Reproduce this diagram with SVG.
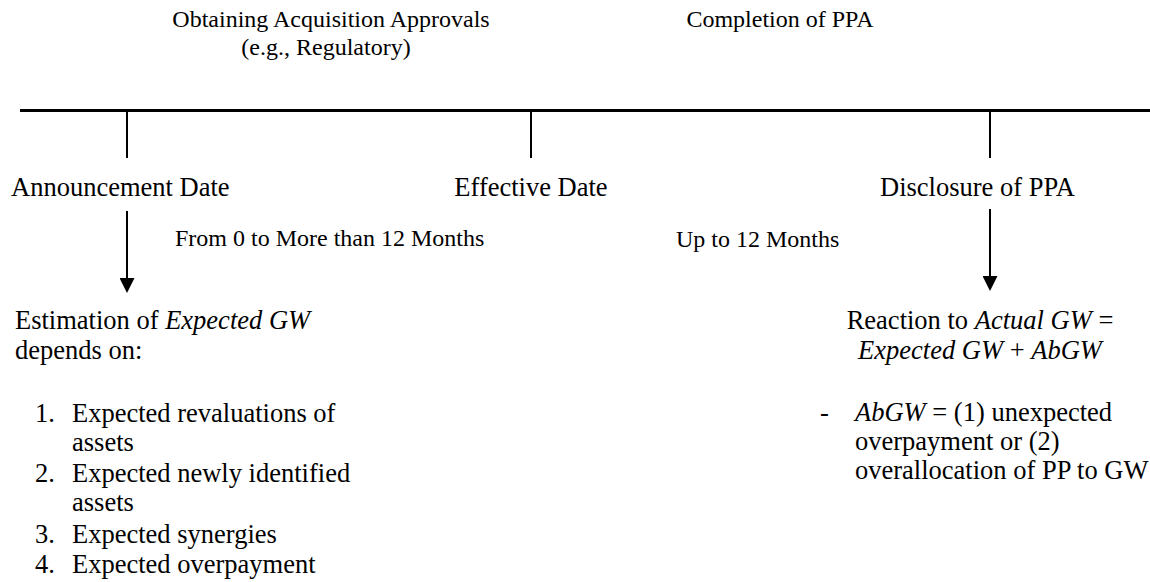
<svg xmlns="http://www.w3.org/2000/svg" width="1150" height="582" viewBox="0 0 1150 582">
<defs>
<style>
text{font-family:"Liberation Serif","Times New Roman",serif;fill:#000}
.s{font-size:24px}
.l{font-size:26.5px}
.i{font-style:italic}
.ln{stroke:#000;fill:none}
</style>
<marker id="ah" markerWidth="15" markerHeight="15" refX="0" refY="7.5" orient="auto" markerUnits="userSpaceOnUse" viewBox="0 0 15 15">
<path d="M0,0 L15,7.5 L0,15 Z" fill="#000"/>
</marker>
</defs>
<rect width="1150" height="582" fill="#fff"/>
<g id="timeline">
<line class="ln" x1="20" y1="110.5" x2="1150" y2="110.5" stroke-width="3"/>
</g>
<g id="approvals">
<text class="s" x="331" y="27" text-anchor="middle">Obtaining Acquisition Approvals</text>
<text class="s" x="326" y="55" text-anchor="middle">(e.g., Regulatory)</text>
</g>
<g id="completion">
<text class="s" x="780" y="27" text-anchor="middle">Completion of PPA</text>
</g>
<g id="announcement">
<line class="ln" x1="127" y1="112" x2="127" y2="158" stroke-width="2"/>
<text class="l" x="11" y="196">Announcement Date</text>
</g>
<g id="effective">
<line class="ln" x1="531" y1="112" x2="531" y2="158" stroke-width="2"/>
<text class="l" x="531" y="196" text-anchor="middle">Effective Date</text>
</g>
<g id="disclosure">
<line class="ln" x1="990" y1="112" x2="990" y2="158" stroke-width="2"/>
<text class="l" x="880" y="196">Disclosure of PPA</text>
</g>
<g id="period1">
<text class="s" x="175" y="246">From 0 to More than 12 Months</text>
</g>
<g id="period2">
<text class="s" x="676" y="247">Up to 12 Months</text>
</g>
<g id="connectors">
<line class="ln" x1="127" y1="211" x2="127" y2="278" stroke-width="2" marker-end="url(#ah)"/>
<line class="ln" x1="990" y1="209" x2="990" y2="276" stroke-width="2" marker-end="url(#ah)"/>
</g>
<g id="expected">
<text class="l" x="15" y="329">Estimation of <tspan class="i">Expected GW</tspan></text>
<text class="l" x="15" y="359">depends on:</text>
<text class="l" x="35" y="422">1.</text><text class="l" x="72" y="422">Expected revaluations of</text>
<text class="l" x="72" y="451">assets</text>
<text class="l" x="35" y="482">2.</text><text class="l" x="72" y="482">Expected newly identified</text>
<text class="l" x="72" y="511">assets</text>
<text class="l" x="35" y="543">3.</text><text class="l" x="72" y="543">Expected synergies</text>
<text class="l" x="35" y="573">4.</text><text class="l" x="72" y="573">Expected overpayment</text>
</g>
<g id="reaction">
<text class="l" x="980" y="329" text-anchor="middle">Reaction to <tspan class="i">Actual GW</tspan> =</text>
<text class="l" x="980" y="359" text-anchor="middle"><tspan class="i">Expected GW</tspan> + <tspan class="i">AbGW</tspan></text>
<text class="l" x="820" y="421">-</text>
<text class="l" x="855" y="421"><tspan class="i">AbGW</tspan> = (1) unexpected</text>
<text class="l" x="855" y="450">overpayment or (2)</text>
<text class="l" x="855" y="479">overallocation of PP to GW</text>
</g>
</svg>
